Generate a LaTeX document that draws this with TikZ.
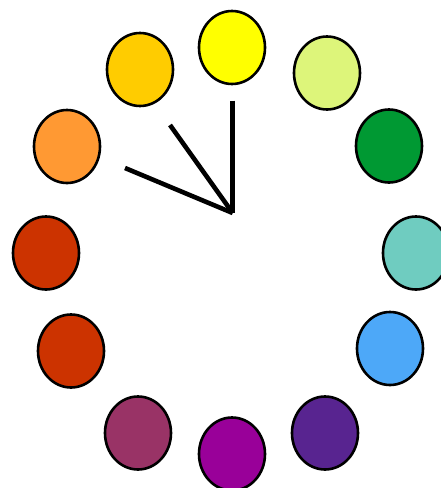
\documentclass[tikz,border=0pt]{standalone}
\usetikzlibrary{shapes.geometric}
\definecolor{cyellow}{HTML}{FFFF00}
\definecolor{camber}{HTML}{FFCC00}
\definecolor{clime}{HTML}{DDF57A}
\definecolor{cgreen}{HTML}{009933}
\definecolor{cteal}{HTML}{6FCCC0}
\definecolor{cblue}{HTML}{4DA8F8}
\definecolor{cpurple}{HTML}{582490}
\definecolor{cmagenta}{HTML}{990099}
\definecolor{cplum}{HTML}{993366}
\definecolor{cred}{HTML}{CC3300}
\definecolor{corange}{HTML}{FF9933}
\tikzset{
  dot/.style={ellipse, draw=black, line width=2.6pt, minimum width=66pt, minimum height=73pt, inner sep=0pt, fill=#1},
  hand/.style={line width=4.6pt, draw=black}
}
\begin{document}
\begin{tikzpicture}[x=1pt,y=-1pt]
\useasboundingbox (0,0) rectangle (441,488);
\node[dot=cyellow] (c1) at (232,47.5) {};
\node[dot=clime] (c2) at (327,73) {};
\node[dot=cgreen] (c3) at (389,146) {};
\node[dot=cteal] (c4) at (416,253) {};
\node[dot=cblue] (c5) at (390,348.5) {};
\node[dot=cpurple] (c6) at (325,433) {};
\node[dot=cmagenta] (c7) at (232,454) {};
\node[dot=cplum] (c8) at (138,433) {};
\node[dot=cred] (c9) at (71,351) {};
\node[dot=cred] (c10) at (46,253) {};
\node[dot=corange] (c11) at (67,146.5) {};
\node[dot=camber] (c12) at (140,69.5) {};
\coordinate (hub) at (232.7,213);
\coordinate (h1) at (232.7,100.5);
\coordinate (h2) at (170,125);
\coordinate (h3) at (125,168);
\draw[hand] (h1) -- (hub);
\draw[hand] (h2) -- (hub);
\draw[hand] (h3) -- (hub);
\end{tikzpicture}
\end{document}
